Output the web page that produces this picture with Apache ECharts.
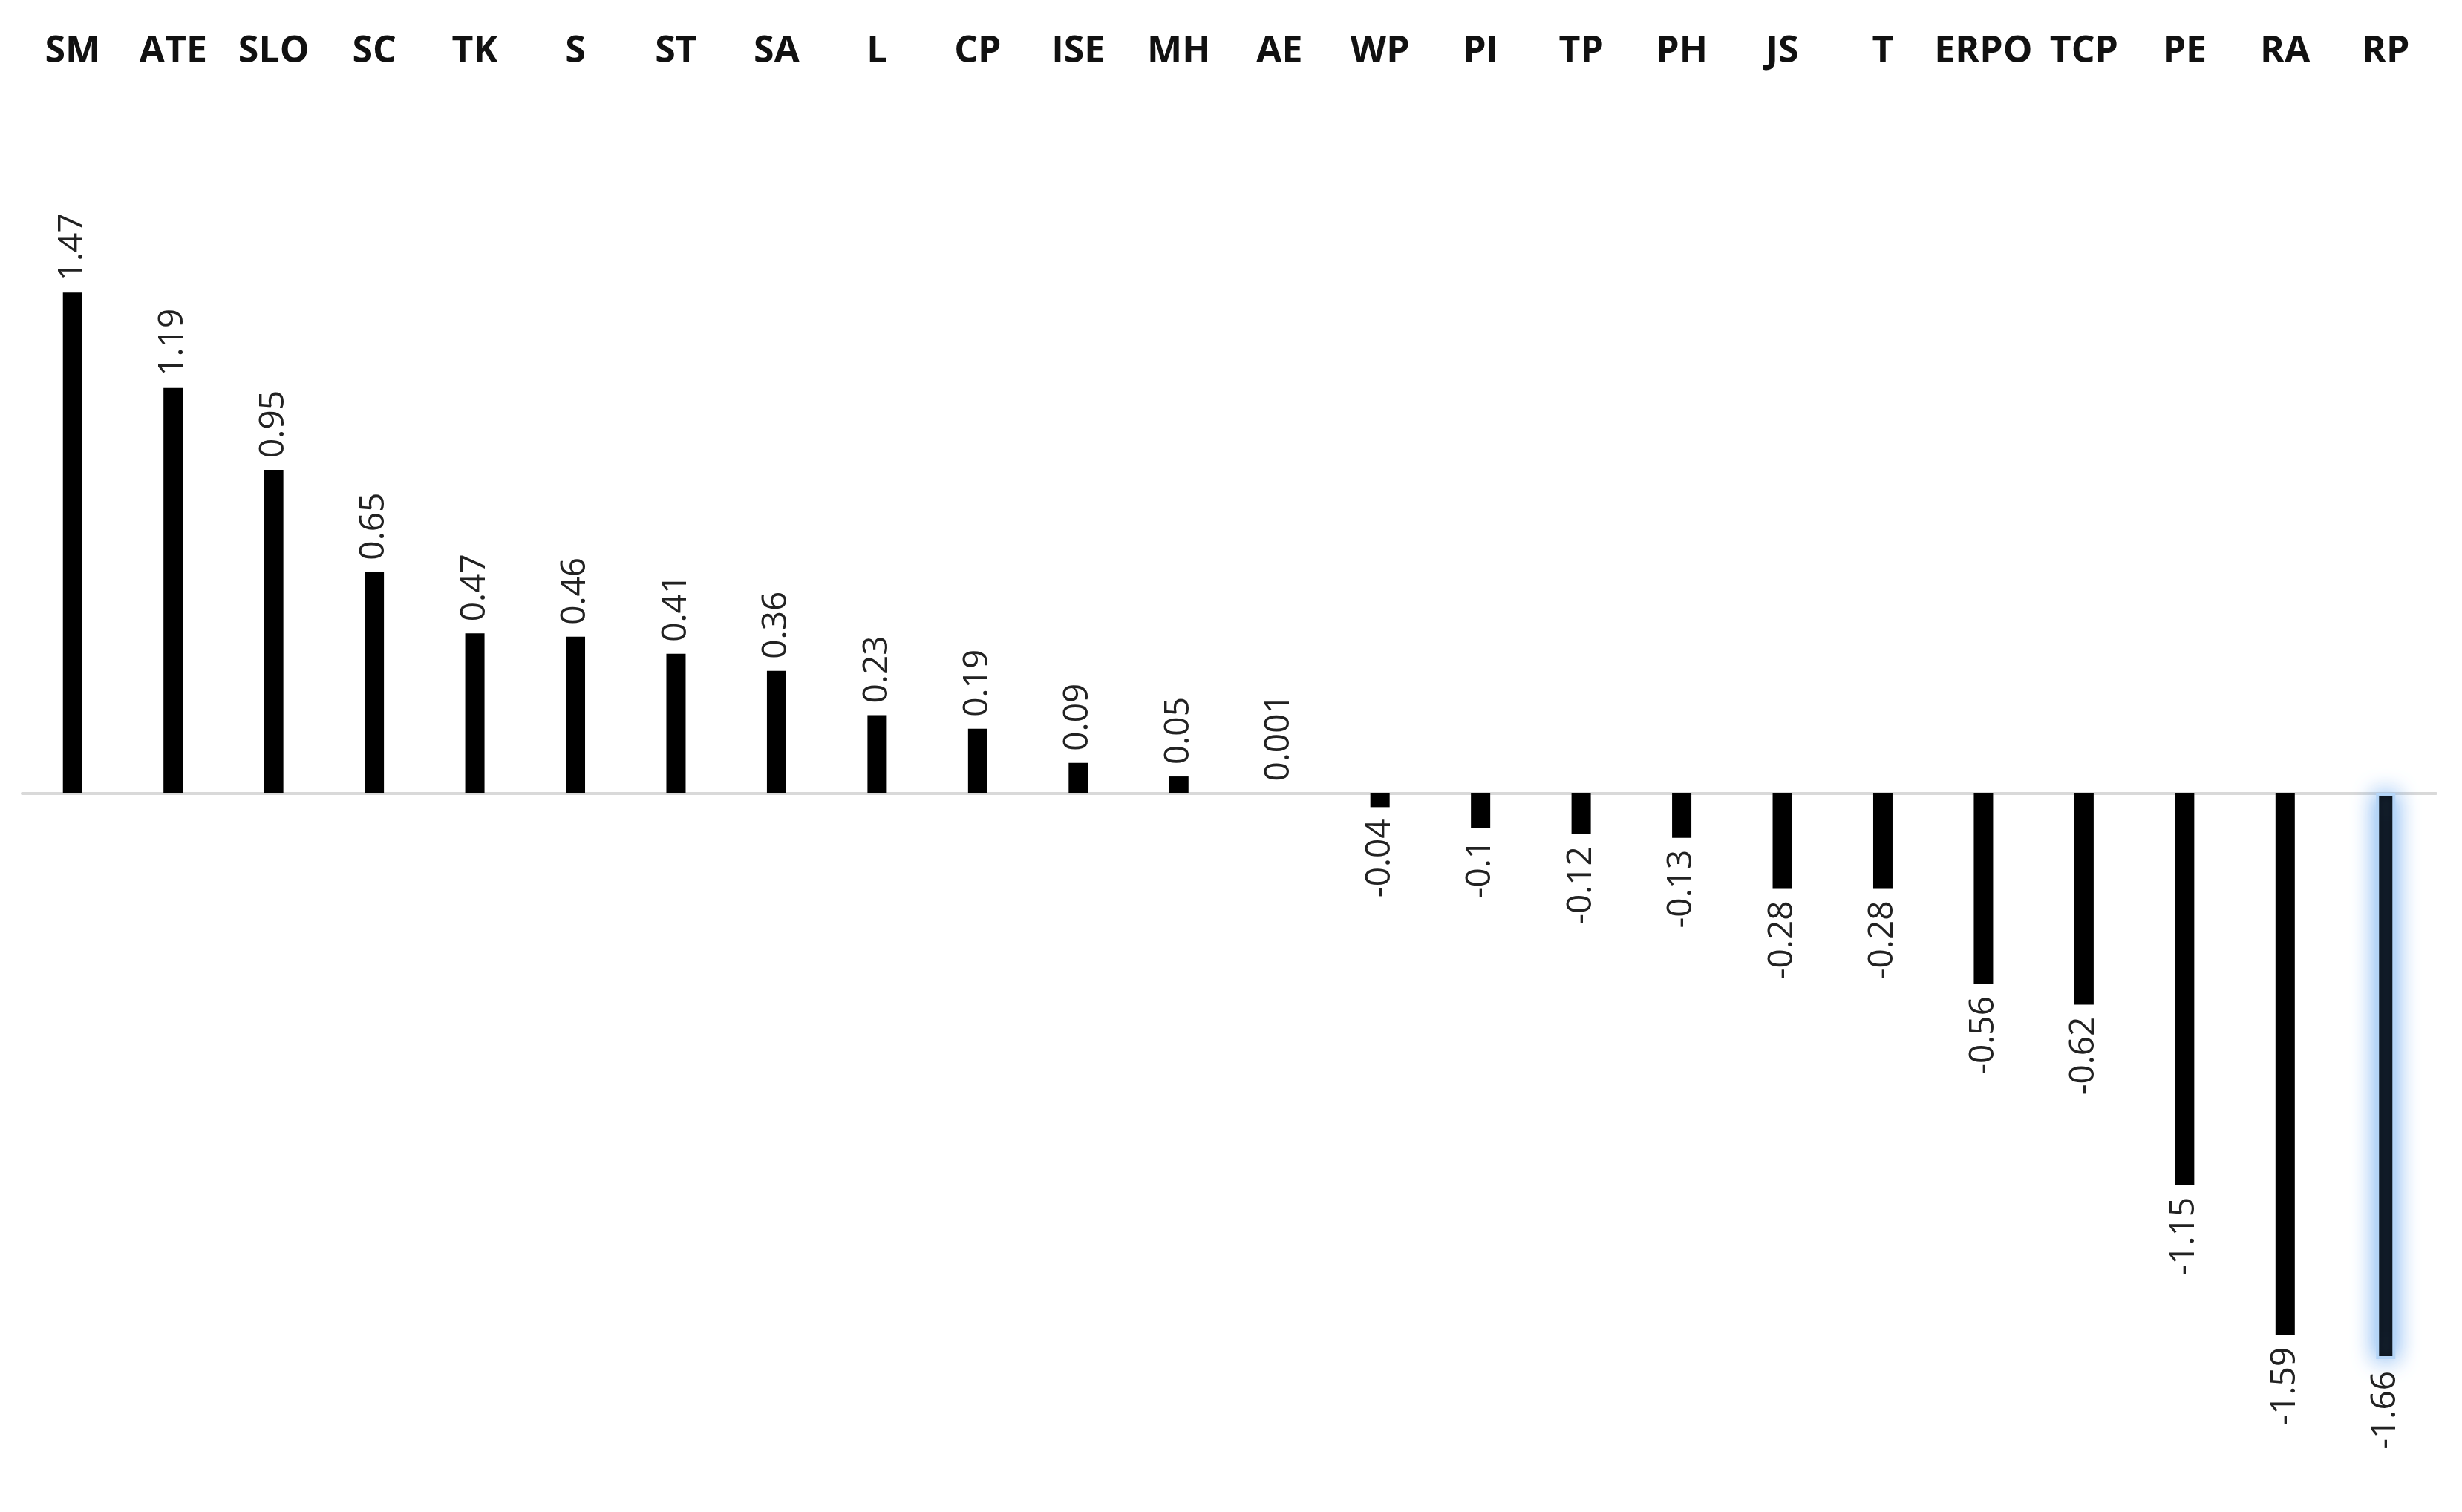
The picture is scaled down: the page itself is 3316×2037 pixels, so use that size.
<!DOCTYPE html>
<html><head><meta charset="utf-8">
<script src="https://cdn.jsdelivr.net/npm/echarts@6/dist/echarts.min.js"></script>
<style>html,body{margin:0;padding:0;background:#fff}#c{width:3316px;height:2037px}</style>
</head><body><div id="c"></div>
<script>
const categories = ['SM','ATE','SLO','SC','TK','S','ST','SA','L','CP','ISE','MH','AE','WP','PI','TP','PH','JS','T','ERPO','TCP','PE','RA','RP'];
const values = [1.47,1.19,0.95,0.65,0.47,0.46,0.41,0.36,0.23,0.19,0.09,0.05,0.001,-0.04,-0.1,-0.12,-0.13,-0.28,-0.28,-0.56,-0.62,-1.15,-1.59,-1.66];
const highlighted = 'RP';

const data = values.map((v, i) => {
  const pos = v >= 0;
  const d = {
    value: v,
    label: {
      show: true,
      position: pos ? 'top' : 'bottom',
      rotate: 90,
      align: pos ? 'left' : 'right',
      verticalAlign: 'middle',
      distance: 16,
      formatter: String(v)
    }
  };
  if (categories[i] === highlighted) {
    d.itemStyle = { color: '#000', shadowBlur: 30, shadowColor: 'rgba(100,165,240,0.95)', borderColor: '#b5d5f7', borderWidth: 4 };
  }
  return d;
});

const chart = echarts.init(document.getElementById('c'));
chart.setOption({
  animation: false,
  backgroundColor: '#fff',
  grid: { left: 30, right: 35, top: 151, bottom: 50 },
  xAxis: [
    { type: 'category', data: categories, position: 'top',
      axisLine: { show: false, onZero: false }, axisTick: { show: false },
      axisLabel: { fontFamily: 'Open Sans', fontWeight: 'bold', fontSize: 50, color: '#111', margin: 56, interval: 0 } },
    { type: 'category', data: categories, position: 'bottom',
      axisLine: { show: true, onZero: true, lineStyle: { color: '#d9d9d9', width: 4 } },
      axisTick: { show: false }, axisLabel: { show: false } }
  ],
  yAxis: { type: 'value', min: -2, max: 2, show: false, splitLine: { show: false } },
  series: [{
    type: 'bar', xAxisIndex: 1, data, barWidth: 26,
    itemStyle: { color: '#000' },
    label: { fontFamily: 'Open Sans', fontSize: 46, color: '#222' }
  }]
});
</script></body></html>
